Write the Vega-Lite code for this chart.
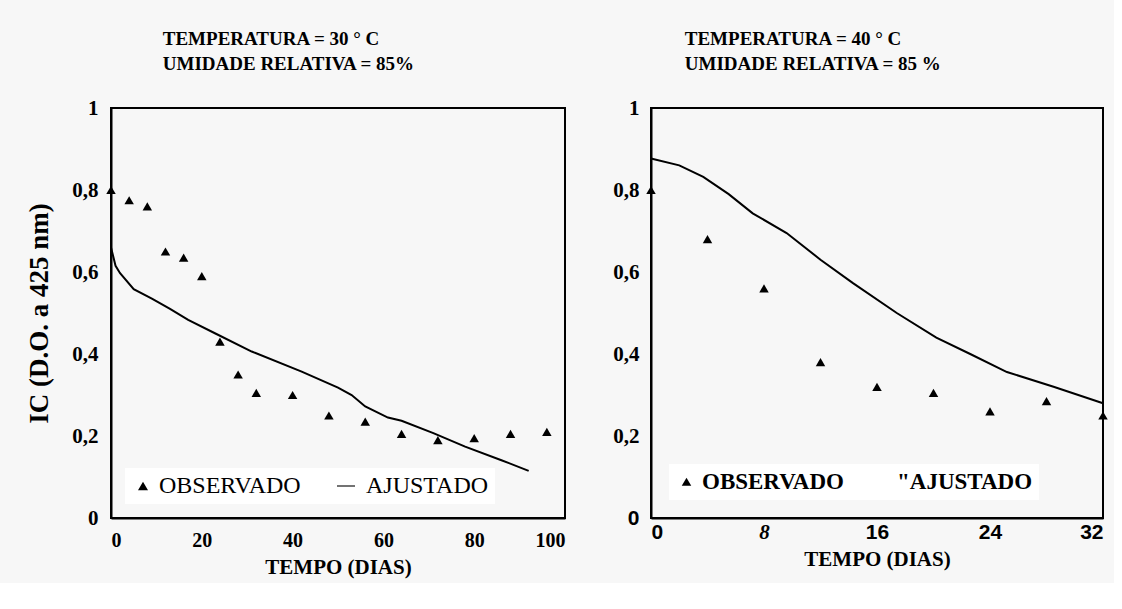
{
  "$schema": "https://vega.github.io/schema/vega-lite/v6.json",
  "background": "#f7f7f7",
  "padding": {"left": 24, "top": 29, "right": 5, "bottom": 5},
  "datasets": {
    "obs30": [
      {"dias": 0, "ic": 0.80}, {"dias": 4, "ic": 0.775}, {"dias": 8, "ic": 0.76},
      {"dias": 12, "ic": 0.65}, {"dias": 16, "ic": 0.635}, {"dias": 20, "ic": 0.59},
      {"dias": 24, "ic": 0.43}, {"dias": 28, "ic": 0.35}, {"dias": 32, "ic": 0.305},
      {"dias": 40, "ic": 0.30}, {"dias": 48, "ic": 0.25}, {"dias": 56, "ic": 0.235},
      {"dias": 64, "ic": 0.205}, {"dias": 72, "ic": 0.19}, {"dias": 80, "ic": 0.195},
      {"dias": 88, "ic": 0.205}, {"dias": 96, "ic": 0.21}
    ],
    "fit30": [
      {"dias": 0, "ic": 0.66}, {"dias": 1, "ic": 0.615}, {"dias": 2, "ic": 0.597},
      {"dias": 5, "ic": 0.558}, {"dias": 9, "ic": 0.535}, {"dias": 13, "ic": 0.51},
      {"dias": 17, "ic": 0.483}, {"dias": 23, "ic": 0.45}, {"dias": 31, "ic": 0.406},
      {"dias": 42, "ic": 0.357}, {"dias": 50, "ic": 0.318}, {"dias": 53, "ic": 0.30},
      {"dias": 56, "ic": 0.272}, {"dias": 61, "ic": 0.245}, {"dias": 64, "ic": 0.237},
      {"dias": 71, "ic": 0.207}, {"dias": 78, "ic": 0.174}, {"dias": 86, "ic": 0.141},
      {"dias": 92, "ic": 0.115}
    ],
    "obs40": [
      {"dias": 0, "ic": 0.80}, {"dias": 4, "ic": 0.68}, {"dias": 8, "ic": 0.56},
      {"dias": 12, "ic": 0.38}, {"dias": 16, "ic": 0.32}, {"dias": 20, "ic": 0.305},
      {"dias": 24, "ic": 0.26}, {"dias": 28, "ic": 0.285}, {"dias": 32, "ic": 0.25}
    ],
    "fit40": [
      {"dias": 0, "ic": 0.877}, {"dias": 2, "ic": 0.86}, {"dias": 3.7, "ic": 0.832},
      {"dias": 5.5, "ic": 0.79}, {"dias": 7.2, "ic": 0.743}, {"dias": 9.6, "ic": 0.695},
      {"dias": 12, "ic": 0.63}, {"dias": 14.3, "ic": 0.573}, {"dias": 17.4, "ic": 0.50},
      {"dias": 20.2, "ic": 0.44}, {"dias": 22.6, "ic": 0.40}, {"dias": 25.2, "ic": 0.356},
      {"dias": 28.5, "ic": 0.32}, {"dias": 32, "ic": 0.28}
    ]
  },
  "hconcat": [
    {
      "width": 454,
      "height": 410,
      "title": {
        "text": ["TEMPERATURA = 30 ° C", "UMIDADE RELATIVA = 85%"],
        "anchor": "start", "dx": 137, "offset": 23,
        "font": "Liberation Serif", "fontSize": 19, "fontWeight": "bold",
        "lineHeight": 25, "color": "black"
      },
      "layer": [
        {
          "data": {"name": "fit30"},
          "mark": {"type": "line", "color": "black", "strokeWidth": 2},
          "encoding": {
            "x": {"field": "dias", "type": "quantitative"},
            "y": {"field": "ic", "type": "quantitative"}
          }
        },
        {
          "data": {"name": "obs30"},
          "transform": [{"calculate": "'OBSERVADO'", "as": "serie"}],
          "mark": {"type": "point", "filled": true, "color": "black", "size": 90, "opacity": 1},
          "encoding": {
            "x": {"field": "dias", "type": "quantitative",
              "scale": {"domain": [0, 100], "nice": false},
              "axis": {"values": [0, 20, 40, 60, 80, 100], "title": "TEMPO (DIAS)", "labelPadding": 12, "titlePadding": 6,
                "labelFontSize": 20}},
            "y": {"field": "ic", "type": "quantitative",
              "scale": {"domain": [0, 1], "nice": false},
              "axis": {"values": [0, 0.2, 0.4, 0.6, 0.8, 1], "title": "IC (D.O. a 425 nm)", "labelPadding": 13, "titlePadding": 18,
                "labelFontSize": 21, "titleFontSize": 27, "titleFontWeight": "bold",
                "labelExpr": "datum.value == 0 ? '0' : datum.value == 1 ? '1' : replace(format(datum.value, '.1f'), '.', ',')"}},
            "shape": {"field": "serie", "type": "nominal",
              "scale": {"domain": ["OBSERVADO", "AJUSTADO"], "range": ["triangle-up", "M-2.6,-0.11H1V0.11H-2.6Z"]},
              "legend": {"title": null, "orient": "bottom-left", "direction": "horizontal",
                "offset": 14, "columnPadding": 36, "labelFont": "Liberation Serif", "labelFontSize": 24,
                "labelColor": "black", "symbolFillColor": "black", "symbolStrokeColor": "black",
                "symbolStrokeWidth": 0, "symbolSize": 100, "fillColor": "white", "padding": 6}}
          }
        }
      ]
    },
    {
      "width": 452,
      "height": 410,
      "title": {
        "text": ["TEMPERATURA = 40 ° C", "UMIDADE RELATIVA = 85 %"],
        "anchor": "start", "dx": 72, "offset": 23,
        "font": "Liberation Serif", "fontSize": 19, "fontWeight": "bold",
        "lineHeight": 25, "color": "black"
      },
      "layer": [
        {
          "data": {"name": "fit40"},
          "mark": {"type": "line", "color": "black", "strokeWidth": 2},
          "encoding": {
            "x": {"field": "dias", "type": "quantitative"},
            "y": {"field": "ic", "type": "quantitative"}
          }
        },
        {
          "data": {"name": "obs40"},
          "transform": [{"calculate": "'OBSERVADO'", "as": "serie"}],
          "mark": {"type": "point", "filled": true, "color": "black", "size": 90, "opacity": 1},
          "encoding": {
            "x": {"field": "dias", "type": "quantitative",
              "scale": {"domain": [0, 32], "nice": false},
              "axis": {"values": [0, 8, 16, 24, 32], "title": "TEMPO (DIAS)", "labelPadding": 3, "titlePadding": 6,
                "labelFontSize": 21,
                "labelFont": {"condition": {"test": "datum.value == 8", "value": "Liberation Serif"}, "value": "Liberation Sans"},
                "labelFontStyle": {"condition": {"test": "datum.value == 8", "value": "italic"}, "value": "normal"}}},
            "y": {"field": "ic", "type": "quantitative",
              "scale": {"domain": [0, 1], "nice": false},
              "axis": {"values": [0, 0.2, 0.4, 0.6, 0.8, 1], "title": null, "labelPadding": 12, "labelFontSize": 21,
                "labelFont": {"condition": {"test": "datum.value == 0", "value": "Liberation Sans"}, "value": "Liberation Serif"},
                "labelExpr": "datum.value == 0 ? '0' : datum.value == 1 ? '1' : replace(format(datum.value, '.1f'), '.', ',')"}},
            "shape": {"field": "serie", "type": "nominal",
              "scale": {"domain": ["OBSERVADO", "\"AJUSTADO"], "range": ["triangle-up", "M0,0"]},
              "legend": {"title": null, "orient": "bottom-left", "direction": "horizontal",
                "offset": 18, "columnPadding": 26, "labelFont": "Liberation Serif", "labelFontSize": 23,
                "labelFontWeight": "bold",
                "labelColor": "black", "symbolFillColor": "black", "symbolStrokeColor": "black",
                "symbolStrokeWidth": 1, "symbolSize": 90, "fillColor": "white", "padding": 6}}
          }
        }
      ]
    }
  ],
  "resolve": {"scale": {"x": "independent", "y": "independent", "shape": "independent"}, "legend": {"shape": "independent"}},
  "spacing": 45,
  "config": {
    "view": {"stroke": "black", "strokeWidth": 2},
    "axis": {
      "ticks": false, "grid": false, "domainColor": "black", "domainWidth": 2,
      "labelFont": "Liberation Serif", "labelFontSize": 18, "labelFontWeight": "bold", "labelColor": "black",
      "titleFont": "Liberation Serif", "titleFontSize": 21, "titleFontWeight": "bold", "titleColor": "black"
    }
  }
}
